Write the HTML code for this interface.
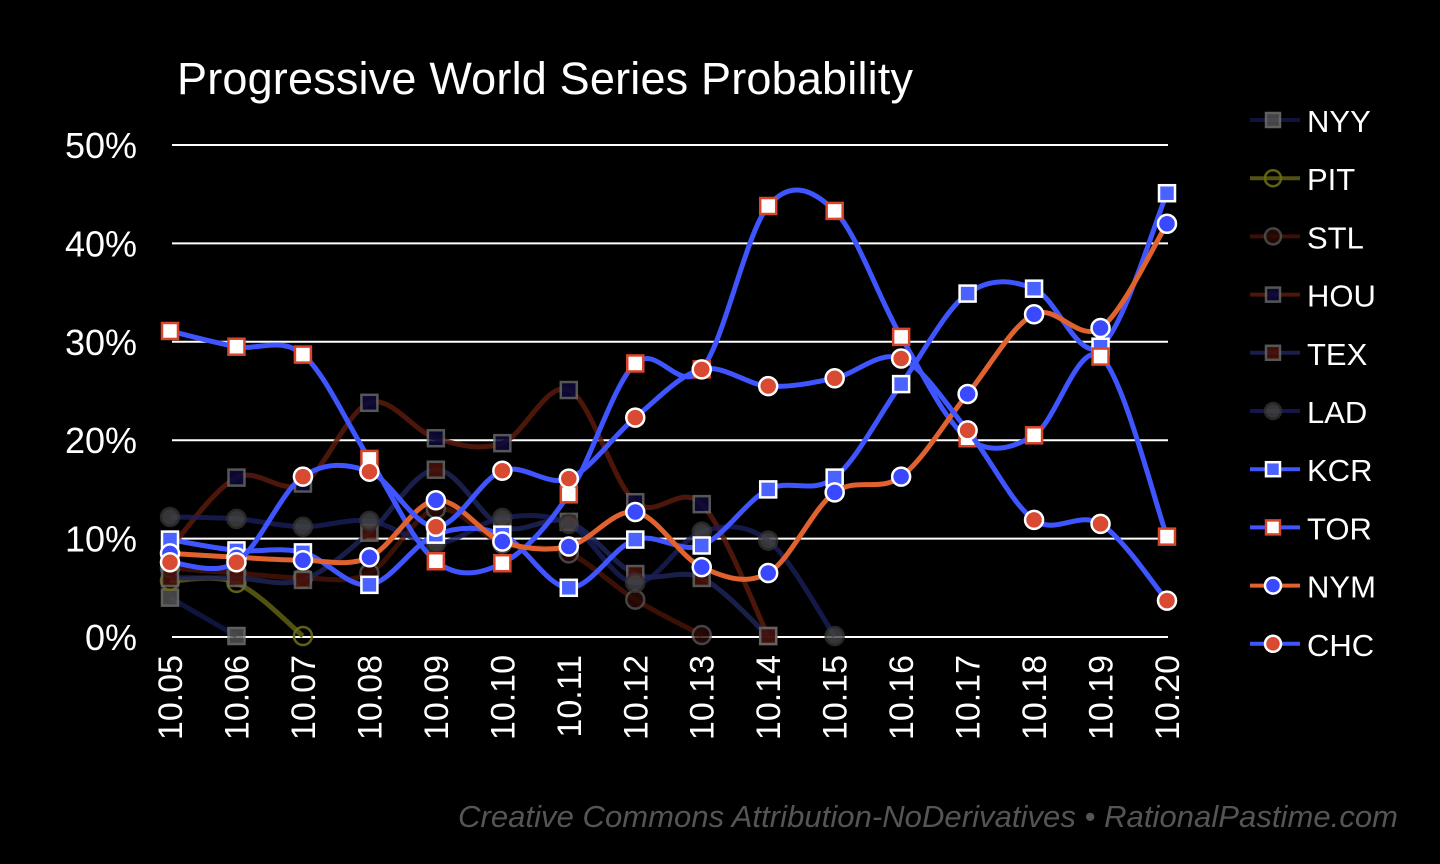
<!DOCTYPE html>
<html><head><meta charset="utf-8"><style>
body{margin:0;background:#000;width:1440px;height:864px;overflow:hidden}
svg{display:block}
text{font-family:"Liberation Sans",sans-serif}
</style></head><body>
<svg id="c" width="1440" height="864">
<text x="177" y="94" font-size="45" fill="#fff" textLength="736">Progressive World Series Probability</text>
<text x="1398" y="827" font-size="31" fill="#555" font-style="italic" text-anchor="end" textLength="940">Creative Commons Attribution-NoDerivatives • RationalPastime.com</text>
</svg>
<script>
const categories=["10.05","10.06","10.07","10.08","10.09","10.10","10.11","10.12","10.13","10.14","10.15","10.16","10.17","10.18","10.19","10.20"];
const yTicks=[0,10,20,30,40,50];
const NYY=[4.0,0.1];
const PIT=[5.7,5.5,0.1];
const STL=[7.0,6.5,6.0,6.5,13.0,9.5,8.5,3.8,0.2];
const HOU=[9.0,16.2,15.6,23.8,20.2,19.7,25.1,13.7,13.5,0.1];
const TEX=[6.0,6.0,5.8,10.6,17.0,11.2,11.7,6.4,6.0,0.1];
const LAD=[12.2,12.0,11.2,11.8,9.5,12.1,11.5,5.5,10.7,9.8,0.1];
const KCR=[9.9,8.8,8.6,5.3,10.4,10.4,5.0,9.9,9.3,15.0,16.2,25.7,34.9,35.4,29.5,45.1];
const TOR=[31.1,29.5,28.7,18.1,7.7,7.5,14.5,27.8,27.2,43.8,43.3,30.5,20.2,20.5,28.5,10.2];
const NYM=[8.5,8.1,7.8,8.1,13.9,9.7,9.2,12.7,7.1,6.5,14.7,16.3,24.7,32.8,31.4,42.0];
const CHC=[7.6,7.6,16.3,16.8,11.2,16.9,16.1,22.3,27.2,25.5,26.3,28.3,21.0,11.9,11.5,3.7];
const seriesNames=["NYY","PIT","STL","HOU","TEX","LAD","KCR","TOR","NYM","CHC"];
const seriesData=[NYY,PIT,STL,HOU,TEX,LAD,KCR,TOR,NYM,CHC];
const styles=[
 {line:"#141a4d",mk:"sq",fill:"#555",stroke:"#777",op:0.8},
 {line:"#5a5a12",mk:"ci",fill:"none",stroke:"#6b6b16",op:0.9},
 {line:"#4a1508",mk:"ci",fill:"#2a0a05",stroke:"#555",op:0.8},
 {line:"#5a1a0d",mk:"sq",fill:"#0a0a3a",stroke:"#666",op:0.85},
 {line:"#1e2457",mk:"sq",fill:"#4a1208",stroke:"#666",op:0.85},
 {line:"#1a1f5a",mk:"ci",fill:"#444",stroke:"#333",op:0.8},
 {line:"#3f55ff",mk:"sq",fill:"#4a62ff",stroke:"#fff",op:1},
 {line:"#3f55ff",mk:"sq",fill:"#fff",stroke:"#d9452b",op:1},
 {line:"#e0622f",mk:"ci",fill:"#3a48ff",stroke:"#fff",op:1},
 {line:"#3f55ff",mk:"ci",fill:"#d94a32",stroke:"#fff",op:1}];
const X0=170,X1=1167,Y0=637,Y50=145;
const xs=i=>X0+i*(X1-X0)/(categories.length-1);
const ys=v=>Y0-v*(Y0-Y50)/50;
const svg=document.getElementById('c');
const NS="http://www.w3.org/2000/svg";
function mk(t,a){const e=document.createElementNS(NS,t);for(const k in a)e.setAttribute(k,a[k]);svg.appendChild(e);return e;}
yTicks.forEach(v=>{
 const g=mk('line',{x1:172,x2:1168,y1:ys(v),y2:ys(v),stroke:"#fff","stroke-width":2});
 
 
 const t=mk('text',{x:137,y:ys(v)+13,"font-size":36,fill:"#fff","text-anchor":"end"});
 t.textContent=v+"%";
 
 
});
categories.forEach((c,i)=>{
 const t=mk('text',{x:0,y:0,"font-size":34,fill:"#fff","text-anchor":"end",transform:`translate(${xs(i)+12},655) rotate(-90)`});
 t.textContent=c;
 
 
});
function pathD(pts){
 if(pts.length<2)return "";
 let d=`M${pts[0][0]},${pts[0][1]}`;
 for(let i=0;i<pts.length-1;i++){
  const p0=pts[Math.max(i-1,0)],p1=pts[i],p2=pts[i+1],p3=pts[Math.min(i+2,pts.length-1)];
  const c1=[p1[0]+(p2[0]-p0[0])/6,p1[1]+(p2[1]-p0[1])/6];
  const c2=[p2[0]-(p3[0]-p1[0])/6,p2[1]-(p3[1]-p1[1])/6];
  d+=` C${c1[0]},${c1[1]} ${c2[0]},${c2[1]} ${p2[0]},${p2[1]}`;
 }
 return d;
}
function marker(s,x,y,r){
 if(s.mk==="sq")return mk('rect',{x:x-r,y:y-r,width:2*r,height:2*r,fill:s.fill,stroke:s.stroke,"stroke-width":2.5,opacity:s.op});
 return mk('circle',{cx:x,cy:y,r:r+1,fill:s.fill,stroke:s.stroke,"stroke-width":2.5,opacity:s.op});
}
seriesData.forEach((arr,k)=>{
 const s=styles[k];
 const pts=arr.map((v,i)=>[xs(i),ys(v)]);
 const p=mk('path',{d:pathD(pts),fill:"none",stroke:s.line,"stroke-width":5,opacity:s.op});
 
 
 pts.forEach(pt=>{
  const m=marker(s,pt[0],pt[1],8);
  
  
 });
 const ly=120+k*58.2;
 const ll=mk('line',{x1:1250,x2:1300,y1:ly,y2:ly,stroke:s.line,"stroke-width":4,opacity:s.op});
 
 
 const lm=marker(s,1273,ly,7);
 
 
 const lt=mk('text',{x:1307,y:ly+12,"font-size":31,fill:"#fff"});
 lt.textContent=seriesNames[k];
 
 
});
</script>
</body></html>
